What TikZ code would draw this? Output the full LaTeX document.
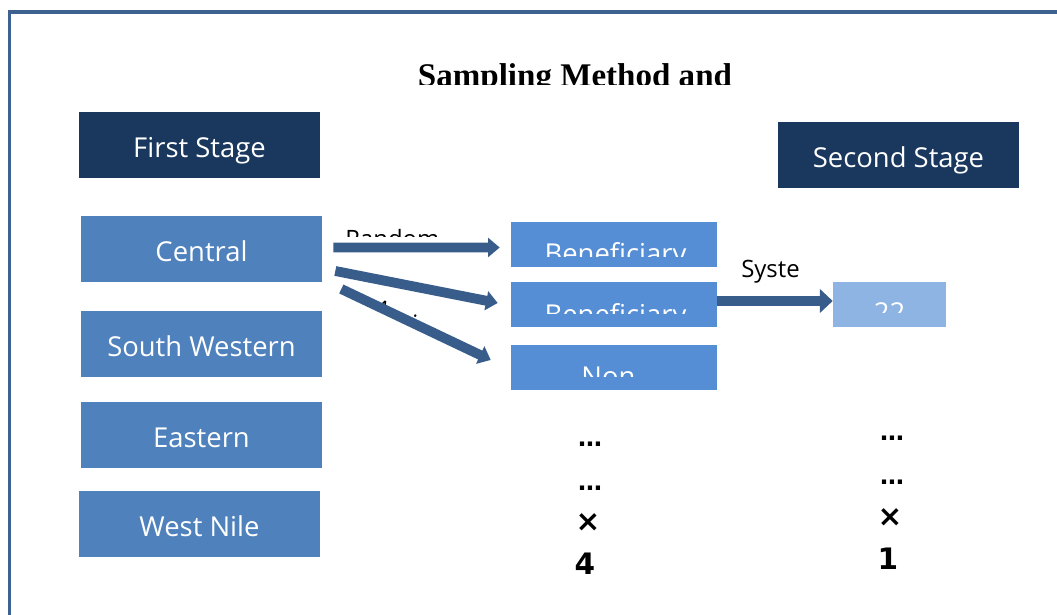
\documentclass[tikz,border=0pt]{standalone}
\usepackage{fontspec}
\setmainfont{Open Sans}
\newfontfamily\titlefont{Liberation Serif}
\newfontfamily\markfont{DejaVu Sans}
\usepackage{tikz}
\usetikzlibrary{arrows.meta, positioning, calc}

\definecolor{stagenavy}{HTML}{1A375E}
\definecolor{regionblue}{HTML}{4F81BD}
\definecolor{groupblue}{HTML}{558ED5}
\definecolor{sizeblue}{HTML}{8EB4E3}
\definecolor{arrowblue}{HTML}{385D8A}
\definecolor{framecol}{HTML}{3E6290}

\tikzset{
  stagebox/.style={fill=stagenavy, text=white, minimum width=6.025cm, minimum height=1.65cm,
    inner sep=0pt, font=\fontsize{19.5}{22}\selectfont, text height=17.3pt, text depth=0pt},
  regionbox/.style={stagebox, fill=regionblue},
  groupbox/.style={fill=groupblue, minimum width=5.15cm, minimum height=1.125cm, inner sep=0pt},
  cuttext/.style={text=white, inner sep=0pt, anchor=north, font=\fontsize{19.5}{22}\selectfont},
  sidetext/.style={inner sep=0pt, anchor=north west, font=\fontsize{17}{20}\selectfont},
  fatarrow/.style={draw=arrowblue, line width=7pt, -{Triangle[length=0.29cm, width=0.47cm]}},
  marktext/.style={inner sep=0pt, font=\markfont\bfseries\fontsize{21}{24}\selectfont},
  dotstext/.style={marktext, font=\markfont\bfseries\fontsize{17}{20}\selectfont}
}

\begin{document}
\begin{tikzpicture}[x=0.025cm, y=-0.025cm]
  % page and frame
  \clip (0,0) rectangle (1057,615);
  \fill[white] (0,0) rectangle (1057,615);
  \draw[framecol, line width=2.84pt] (9.5,12) rectangle (1100,700);

  % title, cut at the bottom
  \begin{scope}
    \clip (300,40) rectangle (850,84.5);
    \node[inner sep=0pt, anchor=north, font=\titlefont\bfseries\fontsize{23.5}{26}\selectfont] (title) at (575,63.5) {Sampling Method and};
  \end{scope}

  % stage headers
  \node[stagebox] (first) at (199.5,145) {First Stage};
  \node[stagebox] (second) at (898.5,155) {Second Stage};

  % regions
  \node[regionbox] (central) at (201.5,249) {Central};
  \node[regionbox] (southwest) at (201.5,344) {South Western};
  \node[regionbox] (eastern) at (201.5,435) {Eastern};
  \node[regionbox] (westnile) at (199.5,524) {West Nile};

  % groups
  \node[groupbox] (benef1) at (614,244.5) {};
  \node[groupbox] (benef2) at (614,304.5) {};
  \node[groupbox] (nonben) at (614,367.5) {};
  \node[groupbox, fill=sizeblue, minimum width=2.825cm] (ssize) at (889.5,304.5) {};

  % texts cut by their boxes
  \begin{scope}
    \clip (benef1.north west) rectangle ($(benef1.east)+(0,12.5)$);
    \node[cuttext] (benef1txt) at ($(benef1.north)+(1.5,21)$) {Beneficiary};
  \end{scope}
  \begin{scope}
    \clip (benef2.north west) rectangle ($(benef2.east)+(0,9)$);
    \node[cuttext] (benef2txt) at ($(benef2.north)+(1.5,22)$) {Beneficiary};
  \end{scope}
  \begin{scope}
    \clip (nonben.north west) rectangle ($(nonben.east)+(0,9.2)$);
    \node[cuttext] (nonbentxt) at ($(nonben.north)+(-5.5,21.7)$) {Non};
  \end{scope}
  \begin{scope}
    \clip (ssize.north west) rectangle ($(ssize.east)+(0,8.2)$);
    \node[cuttext] (ssizetxt) at ($(ssize.north)+(0,21)$) {22};
  \end{scope}

  % arrow labels
  \begin{scope}
    \clip (340,220) rectangle (460,236.5);
    \node[sidetext] (randomlbl) at (345,229.5) {Random};
  \end{scope}
  \begin{scope}[shift={(385,300)}, rotate=-25.5]
    \clip (-12,-4) rectangle (105,5);
    \node[sidetext, rotate=-25.5] (assignlbl) at (-7,0) {Assignment};
  \end{scope}
  \node[sidetext] (systelbl) at (741,260) {Syste};

  % arrows
  \draw[fatarrow] ($(central.east)+(11,-1.5)$) -- ($(benef1.west)+(-11,3)$);
  \draw[fatarrow] ($(central.east)+(13,22)$) -- ($(benef2.west)+(-13,-1.5)$);
  \draw[fatarrow] ($(central.east)+(19,40)$) -- ($(nonben.west)+(-20,-7.5)$);
  \draw[fatarrow, -{Triangle[length=0.32cm, width=0.58cm]}] ($(benef2.east)+(0,-3.5)$) -- ($(ssize.west)+(0,-3.5)$);

  % counts
  \node[dotstext] (ldots1) at (590,444) {…};
  \node[dotstext] (ldots2) at (590,488) {…};
  \node[marktext] (ltimes) at (588,523) {×};
  \node[marktext] (lfour) at (585,564) {4};
  \node[dotstext] (rdots1) at (892,438) {…};
  \node[dotstext] (rdots2) at (892,482) {…};
  \node[marktext] (rtimes) at (890,518) {×};
  \node[marktext] (rone) at (888,559) {1};
\end{tikzpicture}
\end{document}
